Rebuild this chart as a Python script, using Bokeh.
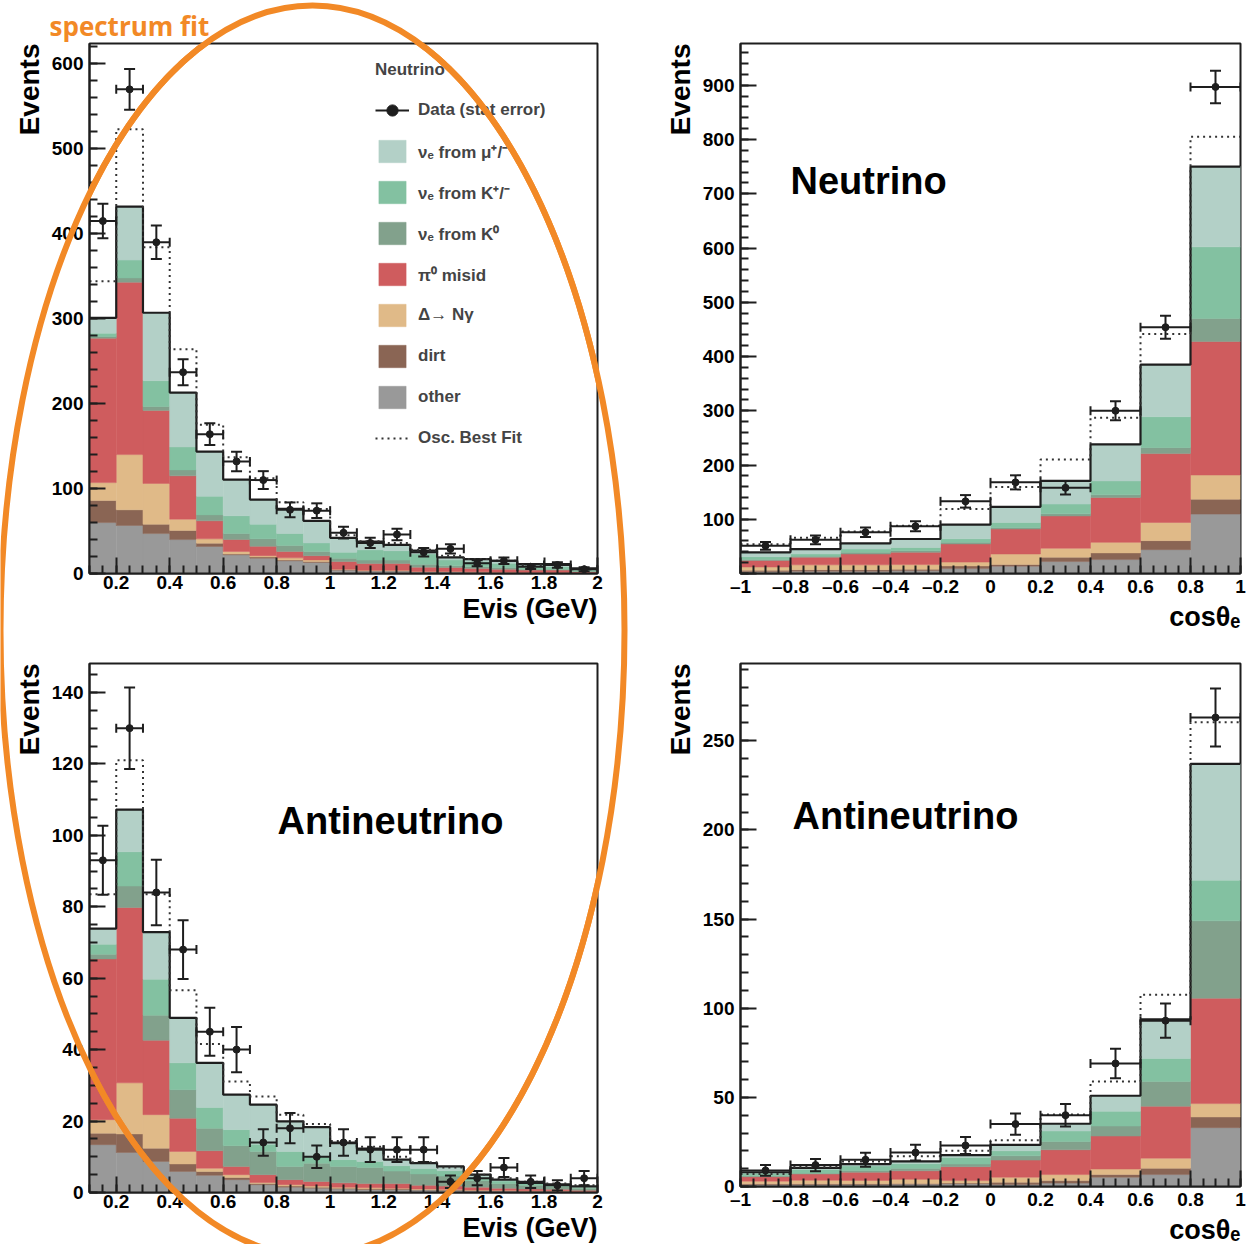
import numpy as np
from bokeh.plotting import figure
from bokeh.layouts import row, column
from bokeh.models import (Range1d, Label, PolyAnnotation, Legend, LegendItem, Title,
                          SingleIntervalTicker, CustomJSTickFormatter)
from bokeh.embed import file_html
from bokeh.resources import INLINE

# ---------------- data ----------------
evis_edges = [0.1, 0.2, 0.3, 0.4, 0.5, 0.6, 0.7, 0.8, 0.9, 1.0,
              1.1, 1.2, 1.3, 1.4, 1.5, 1.6, 1.7, 1.8, 1.9, 2.0]
cos_edges = [-1.0, -0.8, -0.6, -0.4, -0.2, 0.0, 0.2, 0.4, 0.6, 0.8, 1.0]

component_keys = ["other", "dirt", "delta", "pi0", "k0", "kpm", "mu"]
component_labels = {"other": "other", "dirt": "dirt", "delta": "Δ→ Nγ",
                    "pi0": "π⁰ misid", "k0": "νₑ from K⁰",
                    "kpm": "νₑ from K⁺/⁻", "mu": "νₑ from μ⁺/⁻"}
component_colors = {"other": "#999999", "dirt": "#8a6554", "delta": "#e0ba88",
                    "pi0": "#cf5c5e", "k0": "#82a18c", "kpm": "#83c1a1",
                    "mu": "#b3d0c7"}

# Neutrino, Evis
nu_evis_other = [60, 56.5, 47, 40, 31.8, 22, 18, 15, 13, 4, 3, 3, 2, 2, 1.5, 1.2, 1, 1, 0.5]
nu_evis_dirt  = [26, 18.5, 11, 10.6, 3.9, 1, 1.5, 1, 1, 0.5, 0.3, 0.3, 0.2, 0.2, 0.2, 0.1, 0.1, 0.1, 0.1]
nu_evis_delta = [21, 65, 48, 13.4, 5.1, 3, 1.5, 2.4, 2, 0.5, 0.5, 0.5, 0.3, 0.3, 0.3, 0.2, 0.2, 0.2, 0.1]
nu_evis_pi0   = [170, 203, 86, 51, 21.2, 14, 11, 7.6, 5, 9, 8, 8, 5, 4.5, 4, 3.5, 2.7, 2.7, 1.3]
nu_evis_k0    = [2, 5, 4.5, 7, 7, 7, 9, 7, 5, 4, 4, 4, 3.5, 2, 2, 2, 1, 1, 0.6]
nu_evis_kpm   = [4, 21, 30.5, 27, 22, 21, 17, 14, 10, 7, 12, 11, 12, 7, 6, 5, 3, 3, 1.4]
nu_evis_mu    = [18, 63, 80, 64, 52.5, 42.6, 29, 29, 26, 17, 9.8, 6.9, 4, 3, 3, 3, 3, 3, 2]
nu_evis_data  = [415, 570, 390, 237, 164, 132, 110, 75, 74, 48, 36, 46, 25, 29, 12, 15, 8, 10, 5]
nu_evis_osc   = [344, 523, 384, 264, 175, 137, 112, 84, 76, 45, 38, 36, 28, 21, 17, 15, 10, 10, 5]

# Neutrino, cos theta
nu_cos_other = [3, 4, 4, 5, 9, 13.5, 22, 25.7, 44, 109.5]
nu_cos_dirt  = [3, 3, 3, 3, 5, 3, 8, 12.3, 16.6, 27.5]
nu_cos_delta = [6, 9, 9, 8.5, 7, 19.5, 16.5, 19.4, 33.4, 44.6]
nu_cos_pi0   = [12, 14, 20, 22.5, 33.5, 46, 59.5, 82.6, 127, 246]
nu_cos_k0    = [2, 2, 3, 3, 3, 3, 4, 5, 11, 42.5]
nu_cos_kpm   = [5, 4, 6, 6, 6.5, 9, 18, 25.6, 57, 132]
nu_cos_mu    = [8, 9, 10.6, 15.6, 26, 29, 42.6, 67.4, 96, 148]
nu_cos_data  = [51, 62, 76, 87, 133, 168, 158, 300, 454, 897]
nu_cos_osc   = [54, 66, 77.6, 88, 118.7, 159.6, 210, 287, 441.6, 805]

# Antineutrino, Evis
nub_evis_other = [13.4, 11.2, 8.7, 5.9, 4.8, 3.6, 2.2, 1.5, 1.2, 1, 0.8, 0.8, 0.7, 0.6, 0.5, 0.4, 0.3, 0.3, 0.2]
nub_evis_dirt  = [3.2, 5.2, 3.7, 2.1, 1.1, 0.6, 0.3, 0.3, 0.3, 0.2, 0.2, 0.2, 0.1, 0.1, 0.1, 0.1, 0.1, 0.1, 0.05]
nub_evis_delta = [3.8, 14.3, 9.4, 3.5, 0.9, 0.8, 0.3, 0.4, 0.3, 0.3, 0.3, 0.2, 0.2, 0.2, 0.1, 0.1, 0.1, 0.1, 0.05]
nub_evis_pi0   = [45, 49.1, 20.8, 9.3, 4.9, 2.3, 2.2, 1.4, 1.3, 1.2, 1.2, 1.3, 1.0, 0.9, 0.8, 0.6, 0.5, 0.4, 0.3]
nub_evis_k0    = [1.3, 6, 7, 8, 6.3, 5.8, 6.5, 3.7, 5.1, 4.6, 4.5, 3.5, 3.2, 2.8, 1.8, 1.3, 1.0, 0.8, 0.6]
nub_evis_kpm   = [2.8, 9.6, 10.1, 7.5, 5.8, 4.5, 2, 4.2, 1.8, 1.9, 1.7, 1.5, 1.5, 1.5, 1.0, 0.7, 0.5, 0.4, 0.3]
nub_evis_mu    = [4.4, 11.8, 13.2, 12.6, 12.5, 9.8, 11.1, 8.4, 8.3, 4.6, 3.6, 1.7, 1.5, 1.2, 0.7, 0.4, 0.2, 0.2, 0.2]
nub_evis_data  = [93, 130, 84, 68, 45, 40, 14, 18, 10, 14, 12, 12, 12, 3, 4, 7, 3, 2, 4]
nub_evis_osc   = [83.5, 121, 83.5, 56.6, 41.6, 31.1, 26.9, 21.8, 19.2, 14.4, 12.8, 10, 8.5, 7, 5, 4, 3, 2.5, 2]

# Antineutrino, cos theta
nub_cos_other = [1, 1, 1, 1.2, 1.5, 1.1, 1.9, 5.2, 6.7, 33]
nub_cos_dirt  = [0.5, 0.5, 0.6, 0.5, 0.5, 1.3, 1.4, 1.5, 3.5, 6]
nub_cos_delta = [1.5, 2, 1.8, 2.3, 1.3, 2.8, 3.4, 3.1, 5.7, 7.5]
nub_cos_pi0   = [2.5, 3.5, 4.6, 4.8, 7.8, 9.6, 13.9, 18.5, 29.1, 59.1]
nub_cos_k0    = [0.5, 0.5, 1, 1.5, 1.5, 2.4, 4.6, 5.6, 13.9, 43.4]
nub_cos_kpm   = [1.5, 2, 2.5, 2.5, 3.7, 2.8, 5.9, 8.3, 12.9, 22.8]
nub_cos_mu    = [0.5, 1, 1.1, 1.3, 1.3, 3.3, 4.1, 8.7, 21.9, 65.2]
nub_cos_data  = [9, 12, 15, 19, 23, 35, 40, 69, 93, 263]
nub_cos_osc   = [7, 11, 14, 16.9, 20, 25.9, 40.4, 58.9, 107.6, 260.4]

# ---------------- style ----------------
FONT = "Liberation Sans"
INK = "#1e1e1e"
ORANGE = "#f28926"

# panel geometry in page pixels: canvas origin/size, frame edges
GEOM = {
    "tl": dict(ox=0, oy=0, w=640, h=640, fl=89, fr=597, ft=43, fb=573),
    "bl": dict(ox=0, oy=640, w=640, h=604, fl=89, fr=597, ft=663, fb=1192),
    "tr": dict(ox=640, oy=0, w=607, h=640, fl=740, fr=1240, ft=43, fb=573),
    "br": dict(ox=640, oy=640, w=607, h=604, fl=740, fr=1240, ft=663, fb=1192),
}
RANGES = {
    "tl": (0.1, 2.0, 0.0, 624.0),
    "bl": (0.1, 2.0, 0.0, 148.1),
    "tr": (-1.0, 1.0, 0.0, 977.0),
    "br": (-1.0, 1.0, 0.0, 293.3),
}


def to_data(key, gx, gy):
    g = GEOM[key]
    x0, x1, y0, y1 = RANGES[key]
    xd = x0 + (np.asarray(gx, float) - g["fl"]) / (g["fr"] - g["fl"]) * (x1 - x0)
    yd = y0 + (g["fb"] - np.asarray(gy, float)) / (g["fb"] - g["ft"]) * (y1 - y0)
    return xd, yd


tick_fmt = CustomJSTickFormatter(code="""
    let s = Math.abs(tick) < 1e-9 ? "0" : tick.toFixed(1).replace(/\\.0$/, "");
    return s.replace("-", "\\u2013");
""")


def make_panel(key, edges, comps, data, osc, y_interval, y_minor, x_title, big_text=None,
               hide_zero=False):
    g = GEOM[key]
    x0, x1, y0, y1 = RANGES[key]
    p = figure(width=g["w"], height=g["h"], x_range=Range1d(x0, x1), y_range=Range1d(y0, y1),
               output_backend="svg", toolbar_location=None,
               min_border_left=g["fl"] - g["ox"], min_border_right=g["ox"] + g["w"] - g["fr"],
               min_border_top=g["ft"] - g["oy"], min_border_bottom=g["oy"] + g["h"] - g["fb"])
    p.background_fill_color = "white"
    p.border_fill_color = "white"
    p.outline_line_color = INK
    p.outline_line_width = 2
    p.grid.visible = False

    e = np.array(edges, float)
    lft, rgt = e[:-1], e[1:]
    ctr = (lft + rgt) / 2
    bottom = np.zeros(len(lft))
    rend = {}
    for k, vals in zip(component_keys, comps):
        top = bottom + np.array(vals, float)
        rend[k] = p.quad(left=lft, right=rgt, bottom=bottom, top=top,
                         fill_color=component_colors[k], line_color=component_colors[k],
                         line_width=0.5)
        bottom = top
    total = bottom
    p.step(x=e, y=np.append(total, total[-1]), mode="after", line_color=INK, line_width=2.2)
    rend["osc"] = p.step(x=e, y=np.append(np.array(osc, float), osc[-1]), mode="after",
                         line_color="#333333", line_width=2, line_dash="2 4")

    d = np.array(data, float)
    err = np.sqrt(d)
    rend["hbar"] = p.segment(x0=lft, y0=d, x1=rgt, y1=d, line_color=INK, line_width=2)
    p.segment(x0=ctr, y0=d - err, x1=ctr, y1=d + err, line_color=INK, line_width=2)
    rend["hcap"] = p.scatter(x=np.concatenate([lft, rgt]), y=np.concatenate([d, d]),
                             marker="dash", angle=np.pi / 2, size=9, line_color=INK,
                             line_width=2)
    p.scatter(x=np.concatenate([ctr, ctr]), y=np.concatenate([d - err, d + err]),
              marker="dash", size=11, line_color=INK, line_width=2)
    rend["dot"] = p.scatter(x=ctr, y=d, marker="circle", size=7, fill_color=INK,
                            line_color=INK)

    # axes
    p.xaxis[0].ticker = SingleIntervalTicker(interval=0.2, num_minor_ticks=4)
    p.xaxis[0].formatter = tick_fmt
    p.yaxis[0].ticker = SingleIntervalTicker(interval=y_interval, num_minor_ticks=y_minor)
    if hide_zero:
        p.yaxis[0].major_label_overrides = {0: ""}
    for ax in (p.xaxis[0], p.yaxis[0]):
        ax.axis_line_width = 2
        ax.axis_line_color = INK
        ax.major_tick_in = 16
        ax.major_tick_out = 0
        ax.minor_tick_in = 8
        ax.minor_tick_out = 0
        ax.major_tick_line_width = 2
        ax.minor_tick_line_width = 2
        ax.major_tick_line_color = INK
        ax.minor_tick_line_color = INK
        ax.major_label_text_font = FONT
        ax.major_label_text_font_style = "bold"
        ax.major_label_text_font_size = "19px"
        ax.major_label_text_color = "black"
    p.xaxis[0].major_label_standoff = 2
    p.yaxis[0].major_label_standoff = 6

    # axis titles as side titles (aligned to the frame ends)
    p.add_layout(Title(text="Events", align="right", text_font=FONT, text_font_style="bold",
                       text_font_size="28px", text_color="black", standoff=8), "left")
    xt = "Evis (GeV)" if x_title == "evis" else "cosθₑ"
    p.add_layout(Title(text=xt, align="right", text_font=FONT, text_font_style="bold",
                       text_font_size="27px", text_color="black", standoff=0), "below")

    if big_text is not None:
        txt, gx, gy = big_text
        bx, by = to_data(key, gx, gy)
        p.add_layout(Label(x=float(bx), y=float(by), text=txt, text_align="left",
                           text_baseline="middle", text_font=FONT, text_font_style="bold",
                           text_font_size="38px", text_color="black"))
    return p, rend


tl, tl_rend = make_panel(
    "tl", evis_edges,
    [nu_evis_other, nu_evis_dirt, nu_evis_delta, nu_evis_pi0, nu_evis_k0, nu_evis_kpm, nu_evis_mu],
    nu_evis_data, nu_evis_osc, 100, 5, "evis")
bl, _ = make_panel(
    "bl", evis_edges,
    [nub_evis_other, nub_evis_dirt, nub_evis_delta, nub_evis_pi0, nub_evis_k0, nub_evis_kpm, nub_evis_mu],
    nub_evis_data, nub_evis_osc, 20, 4, "evis", big_text=("Antineutrino", 277, 820))
tr, _ = make_panel(
    "tr", cos_edges,
    [nu_cos_other, nu_cos_dirt, nu_cos_delta, nu_cos_pi0, nu_cos_k0, nu_cos_kpm, nu_cos_mu],
    nu_cos_data, nu_cos_osc, 100, 5, "cos", big_text=("Neutrino", 790, 180), hide_zero=True)
br, _ = make_panel(
    "br", cos_edges,
    [nub_cos_other, nub_cos_dirt, nub_cos_delta, nub_cos_pi0, nub_cos_k0, nub_cos_kpm, nub_cos_mu],
    nub_cos_data, nub_cos_osc, 50, 5, "cos", big_text=("Antineutrino", 792, 817))

# legend (top-left panel)
items = [LegendItem(label="Data (stat error)",
                    renderers=[tl_rend["hbar"], tl_rend["hcap"], tl_rend["dot"]])]
for k in ["mu", "kpm", "k0", "pi0", "delta", "dirt", "other"]:
    items.append(LegendItem(label=component_labels[k], renderers=[tl_rend[k]]))
items.append(LegendItem(label="Osc. Best Fit", renderers=[tl_rend["osc"]]))
legend = Legend(items=items, location=(286, 121), title="Neutrino",
                title_text_font=FONT, title_text_font_style="bold", title_text_font_size="17px",
                title_standoff=16,
                label_text_font=FONT, label_text_font_style="bold", label_text_font_size="17px",
                glyph_width=34, glyph_height=28, spacing=13, label_standoff=9,
                padding=0, margin=0, border_line_alpha=0, background_fill_alpha=0)
tl.add_layout(legend)

# orange slide title
tl.add_layout(Title(text="spectrum fit", align="left", offset=-40, text_font="Open Sans",
                    text_font_style="bold", text_font_size="26px", text_color=ORANGE,
                    standoff=0), "above")

# orange ellipse: in-frame fallback (canvas pixel units) ...
theta = np.linspace(0, 2 * np.pi, 721)
ell_gx = 312 + 312 * np.cos(theta)
ell_gy = 630 + 625 * np.sin(theta)
for key, fig in (("tl", tl), ("bl", bl)):
    g = GEOM[key]
    fig.add_layout(PolyAnnotation(xs=list(ell_gx - g["ox"]), ys=list(ell_gy - g["oy"]),
                                  xs_units="canvas", ys_units="canvas",
                                  fill_alpha=0, line_color=ORANGE, line_alpha=1.0,
                                  line_width=6, level="overlay"))

# ... and a transparent full-height overlay so the ring also crosses the margins
ov = figure(width=640, height=1244, x_range=Range1d(0, 640), y_range=Range1d(1244, 0),
            output_backend="svg", toolbar_location=None, x_axis_type=None, y_axis_type=None,
            min_border_left=0, min_border_right=0, min_border_top=0, min_border_bottom=0)
ov.outline_line_color = None
ov.background_fill_color = None
ov.border_fill_color = None
ov.grid.visible = False
ov.ellipse(x=[312], y=[630], width=[624], height=[1250], fill_color=None,
           line_color=ORANGE, line_width=6)
ov.styles = {"position": "absolute", "left": "0px", "top": "0px", "z-index": "10",
             "pointer-events": "none"}

layout = row(column(tl, bl), column(tr, br), ov)
open("out.html", "w").write(file_html(layout, INLINE))
